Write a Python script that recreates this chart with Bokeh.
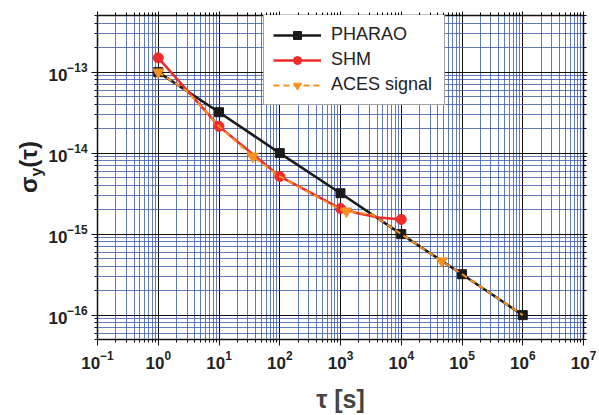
import math
from bokeh.plotting import figure
from bokeh.layouts import row
from bokeh.models import LogAxis, FixedTicker, Legend, LegendItem, Div
from bokeh.embed import file_html
from bokeh.resources import INLINE

# ---- data ----
pharao_tau = [1, 10, 100, 1000, 1e4, 1e5, 1e6]
pharao_sigma = [1.0e-13, 3.2e-14, 1.0e-14, 3.2e-15, 1.0e-15, 3.2e-16, 1.0e-16]

shm_tau = [1, 10, 100, 1000, 2000, 4300, 1e4]
shm_sigma = [1.5e-13, 2.14e-14, 5.15e-15, 2.07e-15, 1.80e-15, 1.60e-15, 1.52e-15]
shm_marker_tau = [1, 10, 100, 1000, 1e4]
shm_marker_sigma = [1.5e-13, 2.14e-14, 5.15e-15, 2.07e-15, 1.52e-15]

aces_tau = [1, 3.0, 10, 36, 100, 1000, 1250, 3300, 1e4, 4.66e4, 1e5, 1e6]
aces_sigma = [1.0e-13, 5.8e-14, 2.14e-14, 9.1e-15, 5.15e-15, 2.0e-15, 1.92e-15,
              1.75e-15, 1.0e-15, 4.65e-16, 3.2e-16, 1.0e-16]
aces_marker_tau = [1, 36, 1250, 4.66e4]
aces_marker_sigma = [1.0e-13, 9.1e-15, 1.92e-15, 4.65e-16]

x_major = [10.0 ** k for k in range(-1, 8)]
y_major = [10.0 ** k for k in range(-17, -12)]
x_minor = [m * 10.0 ** k for k in range(-1, 7) for m in range(2, 10)]
y_minor = [m * 10.0 ** k for k in range(-17, -12) for m in range(2, 10)]

y_title_main, y_title_sub, y_title_tail = "\u03c3", "y", "(\u03c4)"

FONT = "Liberation Sans"
W, H = 599, 415
DIV_W = 45
GAP = 3
MAIN_W = W - DIV_W - GAP

p = figure(width=MAIN_W, height=H, x_axis_type="log", y_axis_type="log",
           x_range=(0.1, 1e7), y_range=(5e-17, 5e-13),
           output_backend="svg", toolbar_location=None,
           min_border_left=97 - DIV_W - GAP, min_border_right=13, min_border_top=15,
           min_border_bottom=75)

xt = FixedTicker(ticks=x_major, minor_ticks=x_minor)
yt = FixedTicker(ticks=y_major, minor_ticks=y_minor)

p.xaxis.ticker = xt
p.yaxis.ticker = yt
p.xgrid.ticker = xt
p.ygrid.ticker = yt

for g in (p.xgrid, p.ygrid):
    g.grid_line_color = "#111111"
    g.grid_line_width = 1
    g.minor_grid_line_color = "#3a5aac"
    g.minor_grid_line_alpha = 0.8
    g.minor_grid_line_width = 1

p.outline_line_color = "#111111"
p.outline_line_width = 1.5

for ax in (p.xaxis, p.yaxis):
    ax.axis_line_color = "#111111"
    ax.major_tick_line_color = "#111111"
    ax.minor_tick_line_color = "#111111"
    ax.major_tick_out = 6
    ax.major_tick_in = 0
    ax.minor_tick_out = 3
    ax.minor_tick_in = 0
    ax.major_label_text_font = FONT
    ax.major_label_text_font_style = "bold"
    ax.major_label_text_font_size = "17px"
    ax.major_label_text_color = "#222222"

p.xaxis.major_label_standoff = 5
p.yaxis.major_label_standoff = 4

p.xaxis.axis_label = "\u03c4 [s]"
p.xaxis.axis_label_text_font = FONT
p.xaxis.axis_label_text_font_style = "bold"
p.xaxis.axis_label_text_font_size = "25px"
p.xaxis.axis_label_standoff = 13

for loc in ("above", "right"):
    ax = LogAxis(ticker=xt if loc == "above" else yt)
    ax.major_label_text_font_size = "2px"
    ax.major_label_text_color = None
    ax.major_label_standoff = 0
    ax.major_tick_out = 4
    ax.major_tick_in = 0
    ax.minor_tick_out = 3
    ax.minor_tick_in = 0
    ax.axis_line_color = "#111111"
    p.add_layout(ax, loc)

# ---- series ----
r_pl = p.line(pharao_tau, pharao_sigma, line_color="#1a1a1a", line_width=2.5)
r_pm = p.scatter(pharao_tau, pharao_sigma, marker="square", size=9,
                 fill_color="#1a1a1a", line_color="#1a1a1a")

r_sl = p.line(shm_tau, shm_sigma, line_color="#ee2a2a", line_width=2.5)
r_sm = p.scatter(shm_marker_tau, shm_marker_sigma, marker="circle", size=10,
                 fill_color="#ee2a2a", line_color="#ee2a2a")

r_al = p.line(aces_tau, aces_sigma, line_color="#f7901e", line_width=2,
              line_dash="6 4")
r_am = p.scatter(aces_marker_tau, aces_marker_sigma, marker="inverted_triangle",
                 size=11, fill_color="#f7901e", line_color="#f7901e")

legend = Legend(items=[
    LegendItem(label="PHARAO", renderers=[r_pl, r_pm]),
    LegendItem(label="SHM", renderers=[r_sl, r_sm]),
    LegendItem(label="ACES signal", renderers=[r_al, r_am]),
], location=(166, 234))
legend.margin = 0
legend.padding = 9
legend.spacing = 4
legend.glyph_width = 48
legend.glyph_height = 20
legend.label_height = 20
legend.label_standoff = 10
legend.label_width = 104
legend.label_text_font = FONT
legend.label_text_font_size = "18px"
legend.label_text_color = "#222222"
legend.border_line_color = "#444444"
legend.border_line_width = 1
legend.background_fill_color = "white"
legend.background_fill_alpha = 1
p.add_layout(legend, "center")

# ---- rotated y-axis title sigma_y(tau) as real text in a side block ----
title_html = (
    f'<div style="position:relative;width:{DIV_W}px;height:{H}px;">'
    '<span style="position:absolute;left:14px;top:193px;transform-origin:0 0;'
    'transform:rotate(-90deg);white-space:nowrap;line-height:30px;'
    f"font-family:'{FONT}';font-weight:bold;font-size:24px;color:#222222;\">"
    f'{y_title_main}<sub style="font-size:16px;vertical-align:-5px;">{y_title_sub}</sub>'
    f'{y_title_tail}</span></div>'
)
side = Div(text=title_html, width=DIV_W, height=H, margin=0)

layout = row(side, p)
open("out.html", "w").write(file_html(layout, INLINE))
